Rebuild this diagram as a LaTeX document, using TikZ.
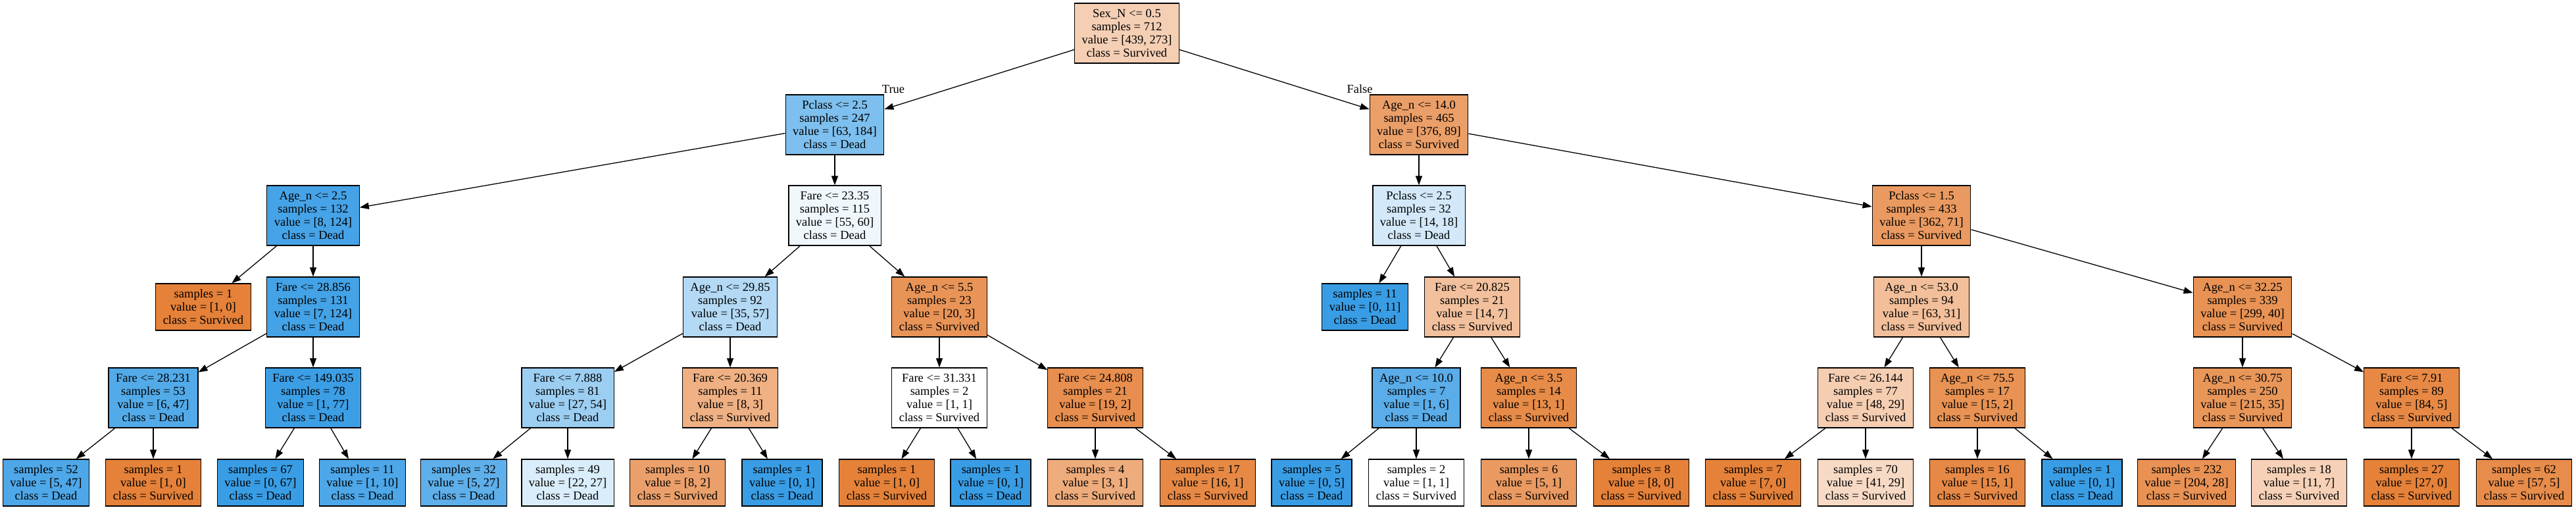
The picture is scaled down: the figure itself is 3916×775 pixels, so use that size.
\documentclass[tikz,border=0pt]{standalone}
\usepackage{fontspec}
\setmainfont{Liberation Serif}
\usetikzlibrary{arrows.meta}
\definecolor{sv}{RGB}{229,129,57}
\definecolor{dd}{RGB}{57,157,229}
\begin{document}
\begin{tikzpicture}[x=1pt,y=-1pt,
  tn/.style={draw=black, line width=1.3pt, rectangle, align=center, inner xsep=11pt, inner ysep=0pt, font=\fontsize{18.5}{20}\selectfont},
  split/.style={tn, minimum height=91pt},
  leaf/.style={tn, minimum height=71pt},
  conn/.style={draw=black, line width=1.3pt, -{Triangle[length=14pt,width=10pt]}},
  lab/.style={inner sep=0pt, anchor=base, font=\fontsize{18.5}{20}\selectfont}]
\useasboundingbox (0,0) rectangle (3916,775);
% level 0
\node[split, fill=sv!37.8!white] (root) at (1713,50.5) {Sex\_N <= 0.5\\samples = 712\\value = [439, 273]\\class = Survived};
% level 1
\node[split, fill=dd!65.8!white] (p1) at (1269,189.5) {Pclass <= 2.5\\samples = 247\\value = [63, 184]\\class = Dead};
\node[split, fill=sv!76.3!white] (a14) at (2157,189.5) {Age\_n <= 14.0\\samples = 465\\value = [376, 89]\\class = Survived};
% level 2
\node[split, fill=dd!93.5!white] (a25) at (476,327.5) {Age\_n <= 2.5\\samples = 132\\value = [8, 124]\\class = Dead};
\node[split, fill=dd!8.3!white] (f2335) at (1269,327.5) {Fare <= 23.35\\samples = 115\\value = [55, 60]\\class = Dead};
\node[split, fill=dd!22.2!white] (p25b) at (2157,327.5) {Pclass <= 2.5\\samples = 32\\value = [14, 18]\\class = Dead};
\node[split, fill=sv!80.4!white] (p15) at (2921,327.5) {Pclass <= 1.5\\samples = 433\\value = [362, 71]\\class = Survived};
% level 3
\node[leaf, fill=sv] (la) at (309,466.5) {samples = 1\\value = [1, 0]\\class = Survived};
\node[split, fill=dd!94.4!white] (f28856) at (476,466.5) {Fare <= 28.856\\samples = 131\\value = [7, 124]\\class = Dead};
\node[split, fill=dd!38.6!white] (a2985) at (1110,466.5) {Age\_n <= 29.85\\samples = 92\\value = [35, 57]\\class = Dead};
\node[split, fill=sv!85!white] (a55) at (1428,466.5) {Age\_n <= 5.5\\samples = 23\\value = [20, 3]\\class = Survived};
\node[leaf, fill=dd] (lb) at (2075,466.5) {samples = 11\\value = [0, 11]\\class = Dead};
\node[split, fill=sv!50!white] (f20825) at (2238,466.5) {Fare <= 20.825\\samples = 21\\value = [14, 7]\\class = Survived};
\node[split, fill=sv!50.8!white] (a53) at (2921,466.5) {Age\_n <= 53.0\\samples = 94\\value = [63, 31]\\class = Survived};
\node[split, fill=sv!86.6!white] (a3225) at (3409,466.5) {Age\_n <= 32.25\\samples = 339\\value = [299, 40]\\class = Survived};
% level 4
\node[split, fill=dd!87.2!white] (f28231) at (233,604.5) {Fare <= 28.231\\samples = 53\\value = [6, 47]\\class = Dead};
\node[split, fill=dd!98.7!white] (f149) at (476,604.5) {Fare <= 149.035\\samples = 78\\value = [1, 77]\\class = Dead};
\node[split, fill=dd!50!white] (f7888) at (863,604.5) {Fare <= 7.888\\samples = 81\\value = [27, 54]\\class = Dead};
\node[split, fill=sv!62.5!white] (f20369) at (1110,604.5) {Fare <= 20.369\\samples = 11\\value = [8, 3]\\class = Survived};
\node[split, fill=white] (f31331) at (1428,604.5) {Fare <= 31.331\\samples = 2\\value = [1, 1]\\class = Survived};
\node[split, fill=sv!89.5!white] (f24808) at (1665,604.5) {Fare <= 24.808\\samples = 21\\value = [19, 2]\\class = Survived};
\node[split, fill=dd!83.3!white] (a10) at (2153,604.5) {Age\_n <= 10.0\\samples = 7\\value = [1, 6]\\class = Dead};
\node[split, fill=sv!92.3!white] (a35) at (2324,604.5) {Age\_n <= 3.5\\samples = 14\\value = [13, 1]\\class = Survived};
\node[split, fill=sv!39.6!white] (f26144) at (2836,604.5) {Fare <= 26.144\\samples = 77\\value = [48, 29]\\class = Survived};
\node[split, fill=sv!86.7!white] (a755) at (3006,604.5) {Age\_n <= 75.5\\samples = 17\\value = [15, 2]\\class = Survived};
\node[split, fill=sv!83.7!white] (a3075) at (3409,604.5) {Age\_n <= 30.75\\samples = 250\\value = [215, 35]\\class = Survived};
\node[split, fill=sv!94!white] (f791) at (3666,604.5) {Fare <= 7.91\\samples = 89\\value = [84, 5]\\class = Survived};
% level 5 (leaves)
\node[leaf, fill=dd!89.4!white] (l1) at (70,733.5) {samples = 52\\value = [5, 47]\\class = Dead};
\node[leaf, fill=sv] (l2) at (233,733.5) {samples = 1\\value = [1, 0]\\class = Survived};
\node[leaf, fill=dd] (l3) at (396,733.5) {samples = 67\\value = [0, 67]\\class = Dead};
\node[leaf, fill=dd!90!white] (l4) at (551,733.5) {samples = 11\\value = [1, 10]\\class = Dead};
\node[leaf, fill=dd!81.5!white] (l5) at (705,733.5) {samples = 32\\value = [5, 27]\\class = Dead};
\node[leaf, fill=dd!18.5!white] (l6) at (863,733.5) {samples = 49\\value = [22, 27]\\class = Dead};
\node[leaf, fill=sv!75!white] (l7) at (1030,733.5) {samples = 10\\value = [8, 2]\\class = Survived};
\node[leaf, fill=dd] (l8) at (1189,733.5) {samples = 1\\value = [0, 1]\\class = Dead};
\node[leaf, fill=sv] (l9) at (1348,733.5) {samples = 1\\value = [1, 0]\\class = Survived};
\node[leaf, fill=dd] (l10) at (1506,733.5) {samples = 1\\value = [0, 1]\\class = Dead};
\node[leaf, fill=sv!66.7!white] (l11) at (1665,733.5) {samples = 4\\value = [3, 1]\\class = Survived};
\node[leaf, fill=sv!93.8!white] (l12) at (1836,733.5) {samples = 17\\value = [16, 1]\\class = Survived};
\node[leaf, fill=dd] (l13) at (1994,733.5) {samples = 5\\value = [0, 5]\\class = Dead};
\node[leaf, fill=white] (l14) at (2153,733.5) {samples = 2\\value = [1, 1]\\class = Survived};
\node[leaf, fill=sv!80!white] (l15) at (2324,733.5) {samples = 6\\value = [5, 1]\\class = Survived};
\node[leaf, fill=sv] (l16) at (2495,733.5) {samples = 8\\value = [8, 0]\\class = Survived};
\node[leaf, fill=sv] (l17) at (2665,733.5) {samples = 7\\value = [7, 0]\\class = Survived};
\node[leaf, fill=sv!29.3!white] (l18) at (2836,733.5) {samples = 70\\value = [41, 29]\\class = Survived};
\node[leaf, fill=sv!93.3!white] (l19) at (3006,733.5) {samples = 16\\value = [15, 1]\\class = Survived};
\node[leaf, fill=dd] (l20) at (3165,733.5) {samples = 1\\value = [0, 1]\\class = Dead};
\node[leaf, fill=sv!86.3!white] (l21) at (3324,733.5) {samples = 232\\value = [204, 28]\\class = Survived};
\node[leaf, fill=sv!36.4!white] (l22) at (3495,733.5) {samples = 18\\value = [11, 7]\\class = Survived};
\node[leaf, fill=sv] (l23) at (3666,733.5) {samples = 27\\value = [27, 0]\\class = Survived};
\node[leaf, fill=sv!91.2!white] (l24) at (3837,733.5) {samples = 62\\value = [57, 5]\\class = Survived};
% edge labels
\node[lab] (ltrue) at (1358,142) {True};
\node[lab] (lfalse) at (2067,142) {False};
% connectors
\path[conn] (root) -- (p1);
\path[conn] (root) -- (a14);
\path[conn] (p1) -- (a25);
\path[conn] (p1) -- (f2335);
\path[conn] (a14) -- (p25b);
\path[conn] (a14) -- (p15);
\path[conn] (a25) -- (la);
\path[conn] (a25) -- (f28856);
\path[conn] (f28856) -- (f28231);
\path[conn] (f28856) -- (f149);
\path[conn] (f28231) -- (l1);
\path[conn] (f28231) -- (l2);
\path[conn] (f149) -- (l3);
\path[conn] (f149) -- (l4);
\path[conn] (f2335) -- (a2985);
\path[conn] (f2335) -- (a55);
\path[conn] (a2985) -- (f7888);
\path[conn] (a2985) -- (f20369);
\path[conn] (f7888) -- (l5);
\path[conn] (f7888) -- (l6);
\path[conn] (f20369) -- (l7);
\path[conn] (f20369) -- (l8);
\path[conn] (a55) -- (f31331);
\path[conn] (a55) -- (f24808);
\path[conn] (f31331) -- (l9);
\path[conn] (f31331) -- (l10);
\path[conn] (f24808) -- (l11);
\path[conn] (f24808) -- (l12);
\path[conn] (p25b) -- (lb);
\path[conn] (p25b) -- (f20825);
\path[conn] (f20825) -- (a10);
\path[conn] (f20825) -- (a35);
\path[conn] (a10) -- (l13);
\path[conn] (a10) -- (l14);
\path[conn] (a35) -- (l15);
\path[conn] (a35) -- (l16);
\path[conn] (p15) -- (a53);
\path[conn] (p15) -- (a3225);
\path[conn] (a53) -- (f26144);
\path[conn] (a53) -- (a755);
\path[conn] (f26144) -- (l17);
\path[conn] (f26144) -- (l18);
\path[conn] (a755) -- (l19);
\path[conn] (a755) -- (l20);
\path[conn] (a3225) -- (a3075);
\path[conn] (a3225) -- (f791);
\path[conn] (a3075) -- (l21);
\path[conn] (a3075) -- (l22);
\path[conn] (f791) -- (l23);
\path[conn] (f791) -- (l24);
\end{tikzpicture}
\end{document}
